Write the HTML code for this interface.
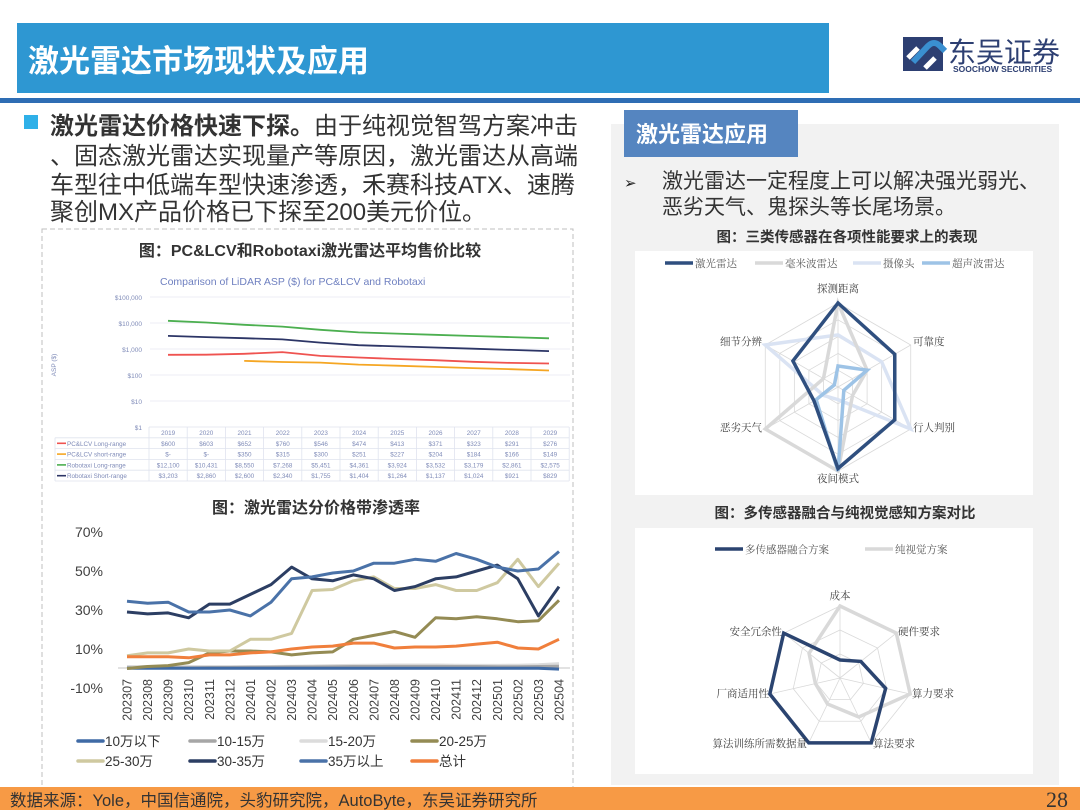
<!DOCTYPE html>
<html><head><meta charset="utf-8"><style>
html,body{margin:0;padding:0;background:#fff;}
body{width:1080px;height:810px;overflow:hidden;position:relative;font-family:"Liberation Sans","Noto Sans CJK SC",sans-serif;}
</style></head><body>
<svg id="s" width="1080" height="810" viewBox="0 0 1080 810" xmlns="http://www.w3.org/2000/svg" style="position:absolute;left:0;top:0" font-family="Liberation Sans, Noto Sans CJK SC, sans-serif">
<rect x="17" y="23" width="812" height="70" fill="#2e97d2"/>
<text x="28" y="72" font-size="31" font-weight="bold" fill="#fff">激光雷达市场现状及应用</text>
<rect x="0" y="98" width="1080" height="5" fill="#2e6db4"/>
<rect x="903" y="37" width="40" height="34" fill="#2d3f72"/>
<path d="M913 62 L928 46 Q934 40 940 46 L945 51" stroke="#3a8fd0" stroke-width="6" fill="none"/>
<path d="M908 58 L918 48 M935 58 L925 68" stroke="#fff" stroke-width="5" fill="none"/>
<text x="948" y="62" font-size="28" fill="#2d3f72">东吴证券</text>
<text x="953" y="72" font-size="8.5" font-weight="bold" fill="#2d3f72">SOOCHOW SECURITIES</text>
<rect x="24" y="115" width="14" height="14" fill="#2fb0e8"/>
<g font-size="24" fill="#333">
<text x="50" y="134"><tspan font-weight="bold">激光雷达价格快速下探。</tspan>由于纯视觉智驾方案冲击</text>
<text x="50" y="164">、固态激光雷达实现量产等原因，激光雷达从高端</text>
<text x="50" y="193">车型往中低端车型快速渗透，禾赛科技ATX、速腾</text>
<text x="50" y="220">聚创MX产品价格已下探至200美元价位。</text>
</g>
<rect x="42" y="229" width="531" height="563" fill="none" stroke="#bfbfbf" stroke-dasharray="5,3"/>
<text x="310" y="256" font-size="16" font-weight="bold" fill="#333" text-anchor="middle">图：PC&amp;LCV和Robotaxi激光雷达平均售价比较</text>
<text x="160" y="285" font-size="10.5" fill="#6f80c0">Comparison of LiDAR ASP ($) for PC&amp;LCV and Robotaxi</text>
<g stroke="#e6e8f0" stroke-width="0.8">
<line x1="150" y1="297" x2="570" y2="297"/><line x1="150" y1="323" x2="570" y2="323"/><line x1="150" y1="349" x2="570" y2="349"/><line x1="150" y1="375" x2="570" y2="375"/><line x1="150" y1="401" x2="570" y2="401"/>
</g>
<g font-size="6.5" fill="#7f8bb8" text-anchor="end">
<text x="142" y="300">$100,000</text><text x="142" y="326">$10,000</text><text x="142" y="352">$1,000</text><text x="142" y="378">$100</text><text x="142" y="404">$10</text><text x="142" y="430">$1</text>
</g>
<text x="56" y="365" font-size="6.5" fill="#7f8bb8" transform="rotate(-90 56 365)" text-anchor="middle">ASP ($)</text>
<polyline fill="none" stroke="#4caf50" stroke-width="1.8" points="168,320.8 206.1,322.5 244.2,324.8 282.3,326.6 320.4,329.8 358.5,332.4 396.6,333.6 434.7,334.8 472.8,336 510.9,337.1 549,338.3"/>
<polyline fill="none" stroke="#2c3566" stroke-width="1.8" points="168,335.9 206.1,337.1 244.2,338.2 282.3,339.4 320.4,342.6 358.5,345.2 396.6,346.4 434.7,347.5 472.8,348.7 510.9,349.9 549,351.1"/>
<polyline fill="none" stroke="#ef5350" stroke-width="1.8" points="168,354.8 206.1,354.7 244.2,353.8 282.3,352.1 320.4,355.9 358.5,357.5 396.6,359 434.7,360.2 472.8,361.8 510.9,362.9 549,363.5"/>
<polyline fill="none" stroke="#f5a623" stroke-width="1.8" points="244.2,360.9 282.3,362 320.4,362.6 358.5,364.6 396.6,365.7 434.7,366.9 472.8,368.1 510.9,369.2 549,370.5"/>
<g id="tbl" font-size="6.3" fill="#7f8bb8"></g>
<text x="316" y="513" font-size="16" font-weight="bold" fill="#333" text-anchor="middle">图：激光雷达分价格带渗透率</text>
<g font-size="14" fill="#404040" text-anchor="end">
<text x="103" y="537">70%</text><text x="103" y="576">50%</text><text x="103" y="615">30%</text><text x="103" y="654">10%</text><text x="103" y="693">-10%</text>
</g>
<line x1="118" y1="668" x2="570" y2="668" stroke="#d9d9d9" stroke-width="1.5"/>
<g id="c2"></g>
<g id="xl" font-size="12.5" fill="#404040"></g>
<g id="lg" font-size="13.5" fill="#333"></g>
<rect x="611" y="124" width="448" height="661" fill="#f2f2f2"/>
<rect x="624" y="110" width="174" height="47" fill="#5585c0"/>
<text x="636" y="142" font-size="22" font-weight="bold" fill="#fff">激光雷达应用</text>
<text x="624" y="188" font-size="15" fill="#222">➢</text>
<text x="662" y="188" font-size="21" fill="#333">激光雷达一定程度上可以解决强光弱光、</text>
<text x="662" y="214" font-size="21" fill="#333">恶劣天气、鬼探头等长尾场景。</text>
<text x="847" y="242" font-size="14.5" font-weight="bold" fill="#333" text-anchor="middle">图：三类传感器在各项性能要求上的表现</text>
<rect x="635" y="251" width="398" height="244" fill="#fff"/>
<g id="r1"></g>
<text x="845" y="518" font-size="14.5" font-weight="bold" fill="#333" text-anchor="middle">图：多传感器融合与纯视觉感知方案对比</text>
<rect x="635" y="528" width="398" height="246" fill="#fff"/>
<g id="r2"></g>
<rect x="0" y="787" width="1080" height="23" fill="#f79a45"/>
<text x="10" y="806" font-size="16.5" fill="#333">数据来源：Yole，中国信通院，头豹研究院，AutoByte，东吴证券研究所</text>
<text x="1068" y="807" font-size="22" fill="#333" text-anchor="end" font-family="Liberation Serif, serif">28</text>
</svg>
<script>
var NS="http://www.w3.org/2000/svg";
function el(p,t,a,txt){var e=document.createElementNS(NS,t);for(var k in a)e.setAttribute(k,a[k]);if(txt!=null)e.textContent=txt;document.getElementById(p).appendChild(e);return e;}
var yrs=["2019","2020","2021","2022","2023","2024","2025","2026","2027","2028","2029"];
var rows=[["PC&LCV Long-range","#ef5350",["$600","$603","$652","$760","$546","$474","$413","$371","$323","$291","$276"]],
["PC&LCV short-range","#f5a623",["$-","$-","$350","$315","$300","$251","$227","$204","$184","$166","$149"]],
["Robotaxi Long-range","#4caf50",["$12,100","$10,431","$8,550","$7,268","$5,451","$4,361","$3,924","$3,532","$3,179","$2,861","$2,575"]],
["Robotaxi Short-range","#2c3566",["$3,203","$2,860","$2,600","$2,340","$1,755","$1,404","$1,264","$1,137","$1,024","$921","$829"]]];
var x0=149,cw=38.2,ty=427,rh=10.8;
for(var r=0;r<=5;r++){var yy=ty+r*rh;el("tbl","line",{x1:r==0?x0:55,y1:yy,x2:x0+11*cw,y2:yy,stroke:"#dfe3ee","stroke-width":0.8});}
for(var c=0;c<=11;c++){el("tbl","line",{x1:x0+c*cw,y1:ty,x2:x0+c*cw,y2:ty+5*rh,stroke:"#dfe3ee","stroke-width":0.8});}
el("tbl","line",{x1:55,y1:ty+rh,x2:55,y2:ty+5*rh,stroke:"#dfe3ee","stroke-width":0.8});
yrs.forEach(function(y,i){el("tbl","text",{x:x0+i*cw+cw/2,y:ty+8,"text-anchor":"middle"},y);});
rows.forEach(function(rw,j){var yy=ty+(j+1)*rh+8;el("tbl","line",{x1:57,y1:yy-2.5,x2:66,y2:yy-2.5,stroke:rw[1],"stroke-width":1.6});
el("tbl","text",{x:67,y:yy},rw[0]);rw[2].forEach(function(v,i){el("tbl","text",{x:x0+i*cw+cw/2,y:yy,"text-anchor":"middle"},v);});});
var X=function(i){return 127+i*20.57;},Y=function(v){return 649-(v-10)*1.95;};
var S=[
["#dcdcdc",[1,1,1,1,1,1,1,1,1.2,1.3,1.5,1.6,1.7,1.8,1.8,1.8,1.7,1.6,1.6,1.7,1.9,2.5]],
["#a6a6a6",[0.3,0.3,0.4,0.4,0.5,0.5,0.6,0.7,0.8,0.8,0.9,1,1,1.1,1.1,1.1,1,1,0.9,0.9,1,1.2]],
["#3f6aa5",[0.1,0.1,0.1,0.1,0.1,0.1,0.1,0.1,0.1,0.1,0.1,0.1,0.1,0.1,0.1,0.1,0.1,0.1,0.1,0.1,0.1,-0.3]],
["#948b54",[0,1,1.5,3,8,9,9,8.5,7,8,8.5,15,17,19,16,26,25.5,26.5,25.5,24,24.5,35]],
["#cfc9a0",[6.5,8,8,10,9,9,15,15,18,40,40.5,45,47,41,41,43,40,40,44,56,42,54]],
["#f07f3c",[6,6,6,5.5,7,7,8,8.5,10,11,11.5,13,13,10.5,11,11,11.5,12.5,13.5,10.5,10,15]],
["#2c3e63",[29,28,28.5,26,33,33,38,43,52,46,45,48,46,40,42,46,47,50,53,46,27,42]],
["#4a72a8",[34.5,33.5,34,29,29,30,27,34,46,47,49,50,54,54,56,55,59,56,52,50,51,60]]];
S.forEach(function(s){el("c2","polyline",{fill:"none",stroke:s[0],"stroke-width":3,"stroke-linejoin":"round",points:s[1].map(function(v,i){return X(i).toFixed(1)+","+Y(v).toFixed(1);}).join(" ")});});
var lab=["202307","202308","202309","202310","202311","202312","202401","202402","202403","202404","202405","202406","202407","202408","202409","202410","202411","202412","202501","202502","202503","202504"];
lab.forEach(function(l,i){var x=X(i)+4.5,y=679;el("xl","text",{x:x,y:y,"text-anchor":"end",transform:"rotate(-90 "+x+" "+y+")"},l);});
var L=[["#3f6aa5","10万以下",78,746],["#a6a6a6","10-15万",190,746],["#dcdcdc","15-20万",301,746],["#948b54","20-25万",412,746],
["#cfc9a0","25-30万",78,766],["#2c3e63","30-35万",190,766],["#4a72a8","35万以上",301,766],["#f07f3c","总计",412,766]];
L.forEach(function(a){el("lg","line",{x1:a[2],y1:a[3]-5,x2:a[2]+25,y2:a[3]-5,stroke:a[0],"stroke-width":3.5,"stroke-linecap":"round"});el("lg","text",{x:a[2]+27,y:a[3]},a[1]);});
function radar(g,cx,cy,R,n,rings,series,labels,lsz){
 function pt(i,f){var a=-Math.PI/2+i*2*Math.PI/n;return [cx+R*f*Math.cos(a),cy+R*f*Math.sin(a)];}
 for(var k=1;k<=rings;k++){var p=[];for(var i=0;i<n;i++)p.push(pt(i,k/rings).join(","));el(g,"polygon",{points:p.join(" "),fill:"none",stroke:"#d9d9d9","stroke-width":0.8});}
 for(var i=0;i<n;i++){var q=pt(i,1);el(g,"line",{x1:cx,y1:cy,x2:q[0],y2:q[1],stroke:"#d9d9d9","stroke-width":0.8});}
 series.forEach(function(s){var p=s[1].map(function(f,i){return pt(i,f).join(",");});el(g,"polygon",{points:p.join(" "),fill:"none",stroke:s[0],"stroke-width":s[2]||3.5,"stroke-linejoin":"miter"});});
 labels.forEach(function(l){el(g,"text",{x:l[1],y:l[2],"text-anchor":l[3]||"middle","font-size":lsz,fill:"#404040","font-family":"Noto Serif CJK SC, serif"},l[0]);});
}
radar("r1",838,387,84,6,5,[
 ["#dae3f3",[0.62,0.6,1,0.15,0.2,1]],
 ["#d9d9d9",[1,0.4,0.2,1,1,0.2]],
 ["#9dc3e6",[0.25,0.4,0.08,1,0.3,0.05]],
 ["#2f4f7f",[1,0.78,0.78,0.97,0.33,0.62]]],
 [["探测距离",838,292],["可靠度",913,345,"start"],["行人判别",913,431,"start"],["夜间模式",838,482],["恶劣天气",762,431,"end"],["细节分辨",762,345,"end"]],10.5);
[["#2f4f7f","激光雷达",665],["#d9d9d9","毫米波雷达",755],["#dae3f3","摄像头",853],["#9dc3e6","超声波雷达",922]].forEach(function(a){
 el("r1","line",{x1:a[2],y1:263,x2:a[2]+28,y2:263,stroke:a[0],"stroke-width":3.5});el("r1","text",{x:a[2]+30,y:267,"font-size":10.5,fill:"#595959","font-family":"Noto Serif CJK SC, serif"},a[1]);});
radar("r2",840,678,72,7,3,[
 ["#d9d9d9",[1,1,1,0.6,0.4,0.35,0.55]],
 ["#2b4470",[0.25,0.37,0.65,1,1,1,1]]],
 [["成本",840,599],["硬件要求",898,635,"start"],["算力要求",912,697,"start"],["算法要求",873,747,"start"],["算法训练所需数据量",807,747,"end"],["厂商适用性",769,697,"end"],["安全冗余性",782,635,"end"]],10.5);
[["#2b4470","多传感器融合方案",715],["#d9d9d9","纯视觉方案",865]].forEach(function(a){
 el("r2","line",{x1:a[2],y1:549,x2:a[2]+28,y2:549,stroke:a[0],"stroke-width":3.5});el("r2","text",{x:a[2]+30,y:553,"font-size":10.5,fill:"#595959","font-family":"Noto Serif CJK SC, serif"},a[1]);});
</script>
</body></html>
